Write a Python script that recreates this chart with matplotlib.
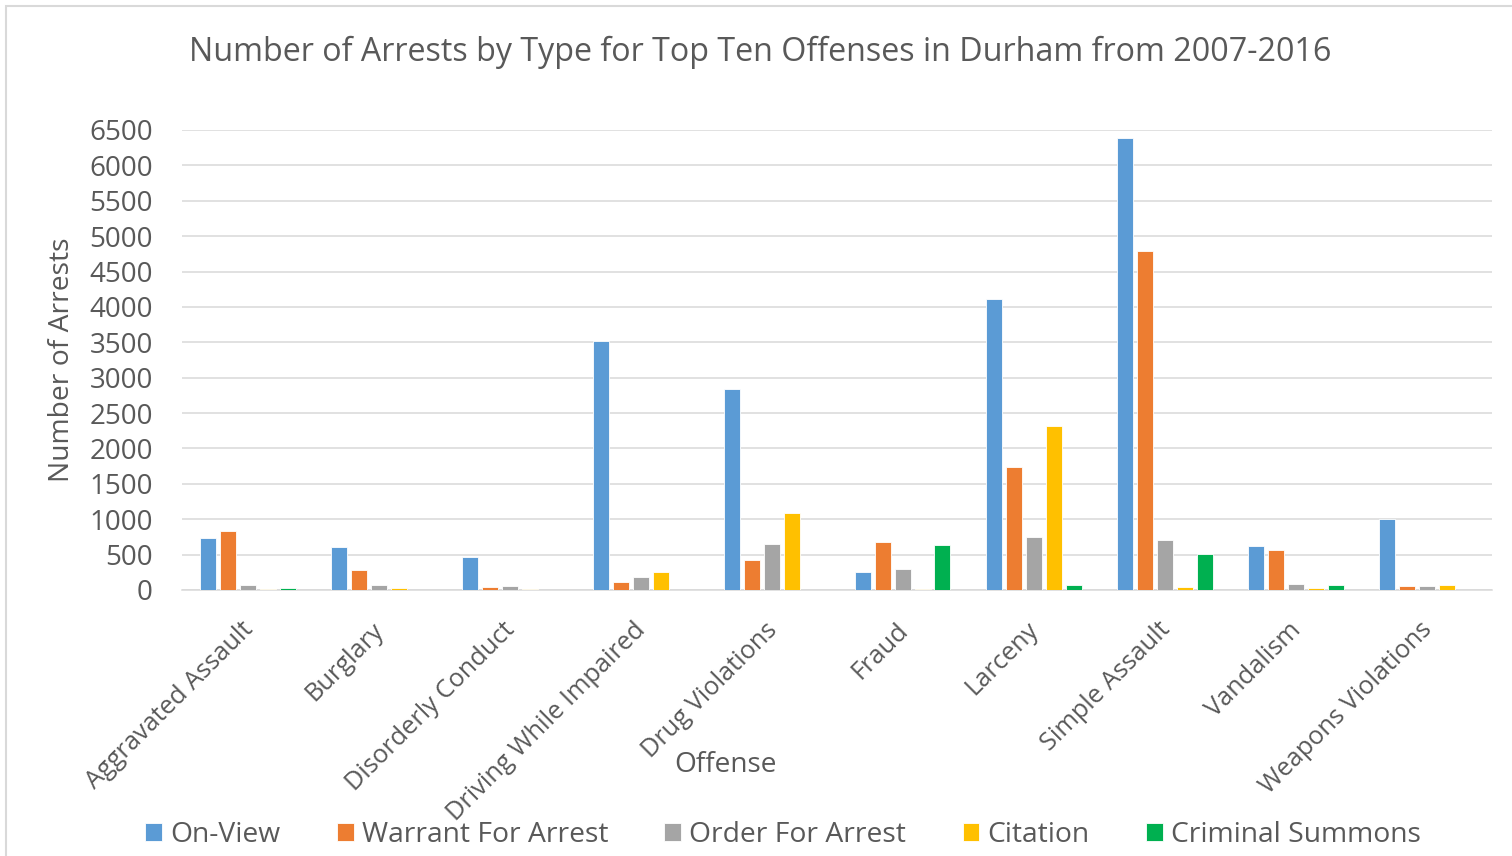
import matplotlib
matplotlib.use("Agg")
import matplotlib.pyplot as plt
import matplotlib.transforms as mtransforms
import numpy as np
from matplotlib.patches import Rectangle

categories = ["Aggravated Assault", "Burglary", "Disorderly Conduct", "Driving While Impaired",
              "Drug Violations", "Fraud", "Larceny", "Simple Assault", "Vandalism", "Weapons Violations"]
series_names = ["On-View", "Warrant For Arrest", "Order For Arrest", "Citation", "Criminal Summons"]
on_view = [730, 608, 471, 3518, 2840, 254, 4112, 6387, 617, 1000]
warrant = [834, 278, 38, 118, 429, 683, 1738, 4790, 565, 61]
order = [70, 70, 52, 188, 645, 297, 744, 702, 85, 52]
citation = [10, 28, 10, 254, 1093, 19, 2317, 42, 24, 71]
summons = [28, 7, 0, 7, 5, 636, 71, 509, 66, 0]
yticks = list(range(0, 6501, 500))

colors = ["#5B9BD5", "#ED7D31", "#A5A5A5", "#FFC000", "#00B050"]
txt = "#595959"
grid = "#D9D9D9"

plt.rcParams['font.family'] = ['Open Sans', 'DejaVu Sans']

W, H = 1512, 856
fig = plt.figure(figsize=(W / 100, H / 100), dpi=100)
ax = fig.add_axes([182 / W, 1 - 590 / H, 1310 / W, 460 / H])

x = np.arange(len(categories))
pitch = 20 / 131
bw = 16 / 131
all_series = [on_view, warrant, order, citation, summons]
handles = []
for i, (vals, c, name) in enumerate(zip(all_series, colors, series_names)):
    b = ax.bar(x + (i - 2) * pitch, vals, width=bw, color=c, edgecolor="white",
               linewidth=0.6, label=name, zorder=3)
    handles.append(b)

ax.set_xlim(-0.5, len(categories) - 0.5)
ax.set_ylim(0, 6500)
ax.set_yticks(yticks)
ax.set_yticklabels([str(v) for v in yticks])
ax.yaxis.grid(True, color=grid, linewidth=1.1, zorder=0)
ax.set_axisbelow(True)
for s in ["top", "right", "left"]:
    ax.spines[s].set_visible(False)
ax.spines["bottom"].set_color(grid)
ax.spines["bottom"].set_linewidth(1.1)
ax.tick_params(axis="both", length=0, colors=txt)
ax.tick_params(axis="y", labelsize=20, pad=21)
ax.set_xticks(x)
ax.set_xticklabels(categories, rotation=45, ha="right", va="top",
                   rotation_mode="anchor", fontsize=18.3, color=txt)
ax.tick_params(axis="x", pad=14)
offset = mtransforms.ScaledTranslation(-7 / 100, -8 / 100, fig.dpi_scale_trans)
for lbl in ax.get_xticklabels():
    lbl.set_transform(lbl.get_transform() + offset)

fig.text(760 / W, 1 - 52 / H, "Number of Arrests by Type for Top Ten Offenses in Durham from 2007-2016",
         ha="center", va="center", fontsize=23.2, color=txt)
fig.text(726 / W, 1 - 765 / H, "Offense", ha="center", va="center", fontsize=20.2, color=txt)
fig.text(62 / W, 1 - 360 / H, "Number of Arrests", ha="center", va="center",
         rotation=90, fontsize=20.3, color=txt)

leg = fig.legend(handles=handles, labels=series_names, loc="center", ncol=5,
                 bbox_to_anchor=(783 / W, 1 - 835 / H), frameon=False,
                 fontsize=20.3, handlelength=0.6, handleheight=0.6,
                 handletextpad=0.28, columnspacing=2.0, borderpad=0)
for t in leg.get_texts():
    t.set_color(txt)

fig.patches.append(Rectangle((6 / W, -0.1), 1.2, 1 - 6 / H + 0.1, transform=fig.transFigure,
                             fill=False, edgecolor=grid, linewidth=1.5, zorder=0))

fig.savefig("out.png", dpi=100)
